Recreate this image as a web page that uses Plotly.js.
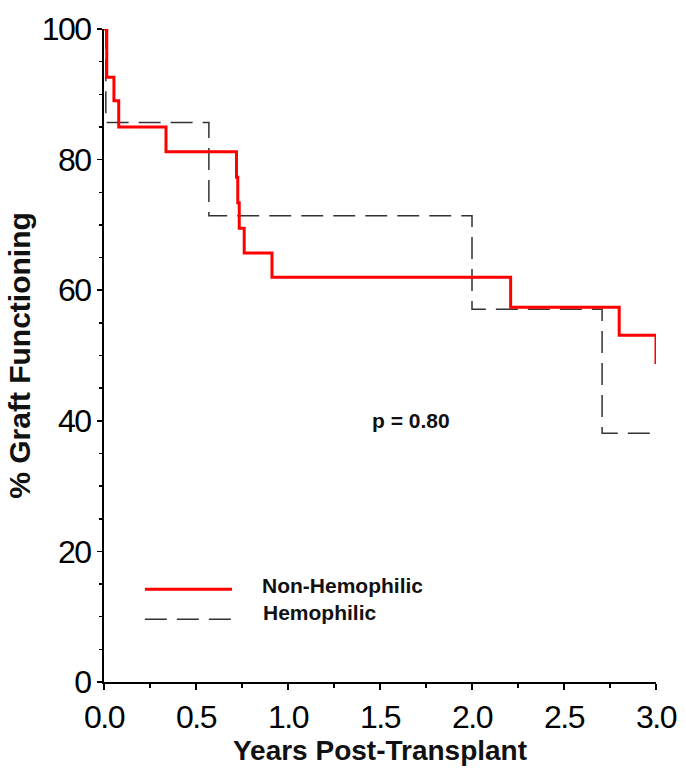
<!DOCTYPE html>
<html>
<head>
<meta charset="utf-8">
<script src="https://cdn.plot.ly/plotly-3.0.1.min.js"></script>
<style>
html, body { margin: 0; padding: 0; background: #fff; }
#chart { width: 686px; height: 772px; }
.xtick text, .ytick text { letter-spacing: -1.5px; }
</style>
</head>
<body>
<div id="chart"></div>
<script>
// Non-Hemophilic Kaplan-Meier steps (years, % graft functioning)
const nonHemYears = [0, 0.015, 0.054, 0.08, 0.337, 0.72, 0.727, 0.735, 0.762, 0.913, 2.21, 2.80, 3.0];
const nonHemPct   = [100, 92.6, 89.0, 85.0, 81.2, 77.3, 73.4, 69.5, 65.7, 62.0, 57.4, 53.1, 48.7];
// Hemophilic Kaplan-Meier steps
const hemYears = [0, 0.01, 0.57, 2.0, 2.707, 3.0];
const hemPct   = [100, 85.7, 71.4, 57.1, 38.1, 38.1];

const seriesNames = ["Non-Hemophilic", "Hemophilic"];
const pValueText = "p = 0.80";
const xTickVals = [0, 0.5, 1.0, 1.5, 2.0, 2.5, 3.0];
const xTickText = ["0.0", "0.5", "1.0", "1.5", "2.0", "2.5", "3.0"];
const yTickVals = [0, 20, 40, 60, 80, 100];
const yTickText = ["0", "20", "40", "60", "80", "100"];

const traces = [
  {
    x: hemYears, y: hemPct, mode: "lines", name: seriesNames[1],
    line: { shape: "hv", color: "#333333", width: 1.5, dash: "22px,10px" },
    showlegend: false, hoverinfo: "skip"
  },
  {
    x: nonHemYears, y: nonHemPct, mode: "lines", name: seriesNames[0],
    line: { shape: "hv", color: "#ff0000", width: 3 },
    showlegend: false, hoverinfo: "skip"
  }
];

const fam = "Liberation Sans, Arial, sans-serif";
const tickFont = { family: fam, size: 32, color: "#000" };

const layout = {
  width: 686, height: 772,
  margin: { l: 104, r: 30, t: 29, b: 90 },
  paper_bgcolor: "#fff", plot_bgcolor: "#fff",
  showlegend: false,
  xaxis: {
    range: [0, 3], tickvals: xTickVals, ticktext: xTickText,
    showgrid: false, zeroline: false, showline: true, linecolor: "#000", linewidth: 2,
    ticks: "outside", ticklen: 6, tickwidth: 1.5, tickcolor: "#000",
    minor: { dtick: 0.25, ticks: "outside", ticklen: 4, tickwidth: 1.5, tickcolor: "#000", showgrid: false },
    tickfont: tickFont,
    title: { text: "<b>Years Post-Transplant</b>", font: { family: fam, size: 28, color: "#111" }, standoff: 6 }
  },
  yaxis: {
    range: [0, 100], tickvals: yTickVals, ticktext: yTickText,
    showgrid: false, zeroline: false, showline: true, linecolor: "#000", linewidth: 2,
    ticks: "outside", ticklen: 5, tickwidth: 1.5, tickcolor: "#000",
    minor: { dtick: 5, ticks: "outside", ticklen: 3, tickwidth: 1.5, tickcolor: "#000", showgrid: false },
    tickfont: tickFont,
    title: { text: "<b>% Graft Functioning</b>", font: { family: fam, size: 30, color: "#111" }, standoff: 2 }
  },
  shapes: [
    { type: "line", xref: "paper", yref: "paper", x0: 0.074, x1: 0.232, y0: 0.142, y1: 0.142,
      line: { color: "#ff0000", width: 3 } },
    { type: "line", xref: "paper", yref: "paper", x0: 0.074, x1: 0.232, y0: 0.096, y1: 0.096,
      line: { color: "#333333", width: 1.5, dash: "22px,10px" } }
  ],
  annotations: [
    { xref: "paper", yref: "paper", x: 0.283, y: 0.1485, xanchor: "left", yanchor: "middle",
      text: "<b>" + seriesNames[0] + "</b>", showarrow: false,
      font: { family: fam, size: 21, color: "#111" } },
    { xref: "paper", yref: "paper", x: 0.285, y: 0.1057, xanchor: "left", yanchor: "middle",
      text: "<b>" + seriesNames[1] + "</b>", showarrow: false,
      font: { family: fam, size: 21, color: "#111" } },
    { xref: "x", yref: "y", x: 1.67, y: 40, xanchor: "center", yanchor: "middle",
      text: "<b>" + pValueText + "</b>", showarrow: false,
      font: { family: fam, size: 21, color: "#111" } }
  ]
};

Plotly.newPlot("chart", traces, layout, { displayModeBar: false, staticPlot: true });
</script>
</body>
</html>
